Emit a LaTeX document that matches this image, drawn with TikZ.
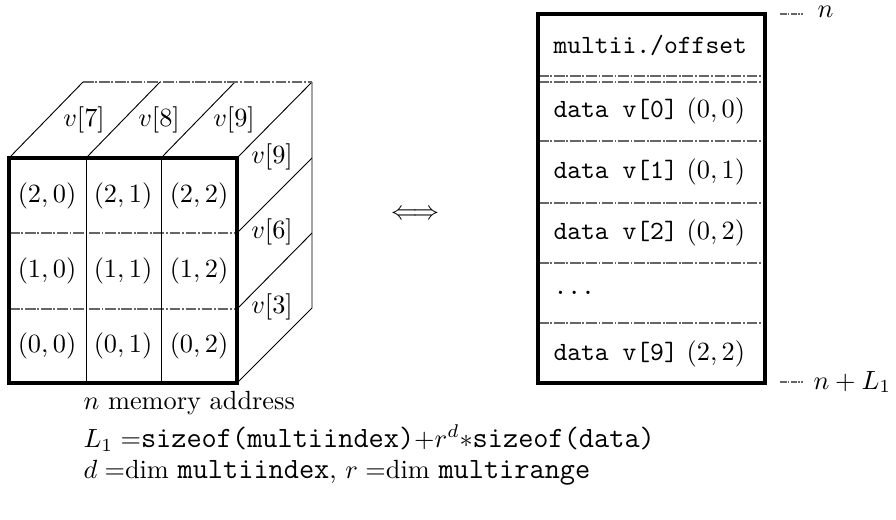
\documentclass[tikz,border=0pt]{standalone}
\usepackage{amsmath}
\usepackage{amssymb}
\usepackage{tikz}
\newcommand{\notett}[1]{{\fontsize{11.2}{13}\selectfont\texttt{#1}}}

\begin{document}
\begin{tikzpicture}[x=0.38pt,y=-0.38pt,
                thinline/.style={line width=0.35pt},
                hline/.style={line width=0.45pt,black!60,dash pattern=on 4pt off 0.7pt on 0.7pt off 0.7pt},
                frame/.style={line width=1.2pt},
                cell/.style={inner sep=0pt},
                slot/.style={anchor=west,inner sep=0pt}]
                \useasboundingbox (0,0) rectangle (896,519);
                % cube, back and side edges
                \draw[thinline] (9,158) -- (83,82);
                \draw[thinline] (86,158) -- (160,82);
                \draw[thinline] (161,158) -- (235,82);
                \draw[thinline] (237,158) -- (312,82);
                \draw[thinline] (237,233) -- (312,158);
                \draw[thinline] (237,309) -- (312,233);
                \draw[thinline] (237,383) -- (312,308) -- (312,82);
                \draw[hline] (83,82) -- (312,82);
                % front face
                \draw[hline] (9,233) -- (237,233);
                \draw[hline] (9,309) -- (237,309);
                \draw[thinline] (86,158) -- (86,383);
                \draw[thinline] (161,158) -- (161,383);
                \draw[frame] (9,158) rectangle (237,383);
                \foreach \r/\y in {2/196,1/271,0/346}
                    \foreach \c/\x in {0/47,1/123,2/199}
                        \node[cell] (c\r\c) at (\x,\y) {$(\r,\c)$};
                \node (t7) at (84,120) {$v[7]$};
                \node (t8) at (159,120) {$v[8]$};
                \node (t9) at (234,120) {$v[9]$};
                \node (s9) at (272,157) {$v[9]$};
                \node (s6) at (272,232) {$v[6]$};
                \node (s3) at (272,307) {$v[3]$};
                \node (eq) at (415,215) {$\Longleftrightarrow$};
                % memory layout
                \draw[hline] (538,76) -- (765,76);
                \draw[hline] (538,82) -- (765,82);
                \foreach \y in {141,203,263,323}
                    \draw[hline] (538,\y) -- (765,\y);
                \draw[frame] (538,14) rectangle (765,383);
                \node[slot] (m0) at (553,45) {\texttt{multii./offset}};
                \node[slot] (m1) at (553,111) {\texttt{data v[0]} $(0,0)$};
                \node[slot] (m2) at (553,172) {\texttt{data v[1]} $(0,1)$};
                \node[slot] (m3) at (553,233) {\texttt{data v[2]} $(0,2)$};
                \node[slot] (m4) at (553,293) {\texttt{...}};
                \node[slot] (m5) at (553,354) {\texttt{data v[9]} $(2,2)$};
                \coordinate (top) at (780,14);
                \coordinate (bot) at (780,382);
                \node[slot] (n) at (817,12) {$n$};
                \node[slot] (nl) at (813,382) {$n+L_1$};
                \draw[hline,dash pattern=on 2.5pt off 0.5pt on 0.5pt off 0.5pt] (top) -- ++(23,0);
                \draw[hline,dash pattern=on 2.5pt off 0.5pt on 0.5pt off 0.5pt] (bot) -- ++(23,0);
                % notes
                \node[slot] (k1) at (83,403) {$n$ memory address};
                \node[slot] (k2) at (83,438) {$L_1 =$\notett{sizeof(multiindex)}$+r^d*$\notett{sizeof(data)}};
                \node[slot] (k3) at (83,473) {$d =$dim \notett{multiindex}, $r =$dim \notett{multirange}};
            \end{tikzpicture}
\end{document}
